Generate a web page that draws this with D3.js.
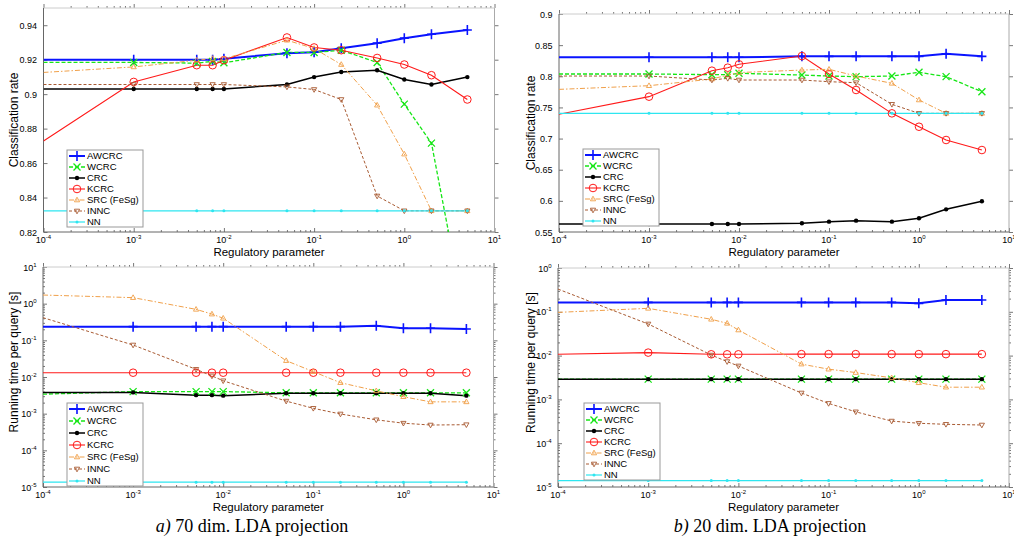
<!DOCTYPE html>
<html>
<head>
<meta charset="utf-8">
<script src="https://cdn.jsdelivr.net/npm/d3@7"></script>
<style>
  body { margin: 0; background: #fff; }
  text { font-family: "Liberation Sans", Arial, sans-serif; fill: #000; }
</style>
</head>
<body>
<svg id="fig" width="1014" height="541"></svg>
<script>
// regulatory parameter values (x), shared by all four plots
const regParams = [1e-4, 1e-3, 5e-3, 7.5e-3, 1e-2, 5e-2, 1e-1, 2e-1, 5e-1, 1, 2, 5];
const methodNames = ["AWCRC", "WCRC", "CRC", "KCRC", "SRC (FeSg)", "INNC", "NN"];

// a) 70 dim, classification rate
const rate70Awcrc = [0.920, 0.920, 0.920, 0.920, 0.9205, 0.9238, 0.9243, 0.9267, 0.9296, 0.9325, 0.9348, 0.9372];
const rate70Wcrc  = [0.9184, 0.9184, 0.918, 0.919, 0.9182, 0.9242, 0.9242, 0.9255, 0.9184, 0.8942, 0.8716, 0.763];
const rate70Crc   = [0.903, 0.903, 0.903, 0.903, 0.903, 0.9056, 0.9099, 0.9129, 0.9139, 0.9085, 0.9056, 0.9099];
const rate70Kcrc  = [0.8728, 0.9071, 0.9168, 0.9168, 0.9197, 0.9329, 0.9271, 0.9255, 0.921, 0.9172, 0.911, 0.8969];
const rate70Src   = [0.9126, 0.9158, 0.9197, 0.9207, 0.9205, 0.9313, 0.9265, 0.9172, 0.8936, 0.8652, 0.8323, 0.8323];
const rate70Innc  = [0.9056, 0.9056, 0.9056, 0.9056, 0.9056, 0.9042, 0.9027, 0.8969, 0.8409, 0.8323, 0.8323, 0.8323];
const rate70Nn    = [0.8323, 0.8323, 0.8323, 0.8323, 0.8323, 0.8323, 0.8323, 0.8323, 0.8323, 0.8323, 0.8323, 0.8323];

// b) 20 dim, classification rate
const rate20Awcrc = [0.8305, 0.8305, 0.8305, 0.8305, 0.8305, 0.832, 0.832, 0.832, 0.832, 0.832, 0.836, 0.832];
const rate20Wcrc  = [0.8037, 0.8037, 0.8026, 0.8026, 0.8048, 0.802, 0.8004, 0.7994, 0.8004, 0.8064, 0.7994, 0.7752];
const rate20Crc   = [0.5628, 0.5628, 0.5628, 0.5628, 0.5628, 0.564, 0.5666, 0.5682, 0.5666, 0.572, 0.5864, 0.5993];
const rate20Kcrc  = [0.739, 0.7673, 0.809, 0.8138, 0.8192, 0.8325, 0.8037, 0.778, 0.7405, 0.719, 0.6977, 0.6816];
const rate20Src   = [0.779, 0.7849, 0.7956, 0.802, 0.806, 0.810, 0.8112, 0.8004, 0.7887, 0.762, 0.7405, 0.7405];
const rate20Innc  = [0.8004, 0.8004, 0.794, 0.7967, 0.794, 0.794, 0.7913, 0.7897, 0.755, 0.7405, 0.7405, 0.7405];
const rate20Nn    = [0.7405, 0.7405, 0.7405, 0.7405, 0.7405, 0.7405, 0.7405, 0.7405, 0.7405, 0.7405, 0.7405, 0.7405];

// a) 70 dim, running time per query [s]
const time70Awcrc = [0.236, 0.236, 0.236, 0.236, 0.236, 0.236, 0.236, 0.236, 0.25, 0.213, 0.213, 0.204];
const time70Wcrc  = [0.0034, 0.004, 0.004, 0.004, 0.004, 0.0037, 0.0037, 0.0037, 0.0037, 0.0037, 0.0037, 0.0037];
const time70Crc   = [0.0038, 0.0038, 0.0032, 0.0032, 0.0031, 0.0036, 0.0036, 0.0036, 0.0036, 0.0036, 0.0036, 0.0031];
const time70Kcrc  = [0.0131, 0.0131, 0.0131, 0.0131, 0.0131, 0.0131, 0.0131, 0.0131, 0.0131, 0.0131, 0.0131, 0.0131];
const time70Src   = [1.72, 1.46, 0.70, 0.52, 0.40, 0.0279, 0.014, 0.007, 0.0042, 0.0029, 0.0021, 0.0021];
const time70Innc  = [0.415, 0.0746, 0.0162, 0.0107, 0.0079, 0.0022, 0.0014, 0.00098, 0.00068, 0.00055, 0.00049, 0.0005];
const time70Nn    = [1.35e-5, 1.35e-5, 1.35e-5, 1.35e-5, 1.35e-5, 1.35e-5, 1.35e-5, 1.35e-5, 1.35e-5, 1.35e-5, 1.35e-5, 1.35e-5];

// b) 20 dim, running time per query [s]
const time20Awcrc = [0.164, 0.164, 0.164, 0.164, 0.164, 0.164, 0.164, 0.164, 0.164, 0.156, 0.186, 0.186];
const time20Wcrc  = [0.0029, 0.0029, 0.0029, 0.0029, 0.0029, 0.0029, 0.0029, 0.0029, 0.0029, 0.0029, 0.0029, 0.0029];
const time20Crc   = [0.0029, 0.0029, 0.0029, 0.0029, 0.0029, 0.0029, 0.0029, 0.0029, 0.0029, 0.0029, 0.0029, 0.0029];
const time20Kcrc  = [0.0107, 0.0117, 0.0107, 0.0107, 0.0107, 0.0108, 0.0108, 0.0108, 0.0108, 0.0108, 0.0108, 0.0108];
const time20Src   = [0.097, 0.12, 0.0675, 0.0546, 0.0384, 0.0064, 0.0049, 0.0041, 0.0031, 0.0024, 0.0019, 0.0019];
const time20Innc  = [0.33, 0.0527, 0.0103, 0.0073, 0.0058, 0.0014, 0.00081, 0.00052, 0.00032, 0.000285, 0.00027, 0.00026];
const time20Nn    = [1.4e-5, 1.4e-5, 1.4e-5, 1.4e-5, 1.4e-5, 1.4e-5, 1.4e-5, 1.4e-5, 1.4e-5, 1.4e-5, 1.4e-5, 1.4e-5];

// tick values
const xTicks = [1e-4, 1e-3, 1e-2, 1e-1, 1, 10];
const yTicksRate70 = [0.82, 0.84, 0.86, 0.88, 0.9, 0.92, 0.94];
const yTicksRate20 = [0.55, 0.6, 0.65, 0.7, 0.75, 0.8, 0.85, 0.9];
const yTicksTime70 = [1e-5, 1e-4, 1e-3, 1e-2, 1e-1, 1, 10];
const yTicksTime20 = [1e-5, 1e-4, 1e-3, 1e-2, 1e-1, 1];

// line look for each method (same order as methodNames)
const styles = [
  { color: "#0a14ff", width: 2,   dash: null,        marker: "plus" },
  { color: "#16e616", width: 1.3, dash: "4,2",       marker: "cross" },
  { color: "#000000", width: 1.5, dash: null,        marker: "dot" },
  { color: "#ff1a1a", width: 1.1, dash: null,        marker: "circle" },
  { color: "#f0a04a", width: 1,   dash: "5,2,1.5,2", marker: "triUp" },
  { color: "#a85a32", width: 1,   dash: "3,2",       marker: "triDown" },
  { color: "#2ee6f0", width: 1.2, dash: null,        marker: "point" }
];

const panels = [
  { left: 43.5, right: 494.5, top: 8, bottom: 232, log: false, yDomain: [0.82, 0.95], yTicks: yTicksRate70,
    yLabel: "Classification rate", yLabelX: 15, legend: { x: 67, y: 150, h: 77 },
    series: [rate70Awcrc, rate70Wcrc, rate70Crc, rate70Kcrc, rate70Src, rate70Innc, rate70Nn] },
  { left: 559, right: 1009, top: 14, bottom: 232, log: false, yDomain: [0.55, 0.9], yTicks: yTicksRate20,
    yLabel: "Classification rate", yLabelX: 532, legend: { x: 583, y: 149, h: 77 },
    series: [rate20Awcrc, rate20Wcrc, rate20Crc, rate20Kcrc, rate20Src, rate20Innc, rate20Nn] },
  { left: 43, right: 493.5, top: 267, bottom: 487, log: true, yDomain: [1e-5, 10], yTicks: yTicksTime70,
    yLabel: "Running time per query [s]", yLabelX: 15, legend: { x: 67, y: 403, h: 83 },
    series: [time70Awcrc, time70Wcrc, time70Crc, time70Kcrc, time70Src, time70Innc, time70Nn] },
  { left: 558, right: 1009, top: 268, bottom: 487, log: true, yDomain: [1e-5, 1], yTicks: yTicksTime20,
    yLabel: "Running time per query [s]", yLabelX: 532, legend: { x: 584, y: 403, h: 77 },
    series: [time20Awcrc, time20Wcrc, time20Crc, time20Kcrc, time20Src, time20Innc, time20Nn] }
];

const svg = d3.select("#fig");

function drawMarker(g, type, cx, cy, st) {
  const m = g.append("g").attr("transform", `translate(${cx},${cy})`)
    .attr("stroke", st.color).attr("fill", "none");
  if (type === "plus") {
    m.append("path").attr("d", "M-4.5,0H4.5M0,-5V5").attr("stroke-width", 1.6);
  } else if (type === "cross") {
    m.append("path").attr("d", "M-3.5,-3.5L3.5,3.5M-3.5,3.5L3.5,-3.5").attr("stroke-width", 1.3);
  } else if (type === "dot") {
    m.append("circle").attr("r", 2.2).attr("fill", st.color).attr("stroke", "none");
  } else if (type === "circle") {
    m.append("circle").attr("r", 3.8).attr("stroke-width", 1);
  } else if (type === "triUp") {
    m.append("path").attr("d", "M0,-2.8L2.6,1.8H-2.6Z").attr("stroke-width", 0.9);
  } else if (type === "triDown") {
    m.append("path").attr("d", "M0,2.8L2.6,-1.8H-2.6Z").attr("stroke-width", 0.9);
  } else if (type === "point") {
    m.append("circle").attr("r", 1.5).attr("fill", st.color).attr("stroke", "none");
  }
}

function powLabel(sel, v) {
  const e = Math.round(Math.log10(v));
  sel.text("10");
  sel.append("tspan").attr("dy", -4).attr("font-size", 6).text(e);
}

// log-scale minor tick positions
function minorTicks(lo, hi) {
  const out = [];
  for (let e = Math.round(Math.log10(lo)); e < Math.round(Math.log10(hi)); e++) {
    for (let k = 2; k <= 9; k++) out.push(k * Math.pow(10, e));
  }
  return out;
}

panels.forEach((p, pi) => {
  const g = svg.append("g");
  const x = d3.scaleLog().domain([1e-4, 10]).range([p.left, p.right]);
  const y = (p.log ? d3.scaleLog() : d3.scaleLinear()).domain(p.yDomain).range([p.bottom, p.top]);

  const clipId = "clip" + pi;
  g.append("clipPath").attr("id", clipId).append("rect")
    .attr("x", p.left).attr("y", p.top)
    .attr("width", p.right - p.left).attr("height", p.bottom - p.top);

  // ticks (inward) on all four sides
  const axes = g.append("g").attr("stroke", "#777");
  const xMinor = minorTicks(1e-4, 10);
  [[p.bottom, -4, -2, d3.axisBottom], [p.top, 4, 2, d3.axisTop]].forEach(([yy, big, small, fn]) => {
    axes.append("g").attr("transform", `translate(0,${yy})`)
      .call(fn(x).tickValues(xTicks).tickSizeInner(big).tickSizeOuter(0).tickFormat(""));
    axes.append("g").attr("transform", `translate(0,${yy})`)
      .call(fn(x).tickValues(xMinor).tickSizeInner(small).tickSizeOuter(0).tickFormat(""));
  });
  [[p.left, -4, d3.axisLeft], [p.right, 4, d3.axisRight]].forEach(([xx, big, fn]) => {
    axes.append("g").attr("transform", `translate(${xx},0)`)
      .call(fn(y).tickValues(p.yTicks).tickSizeInner(big).tickSizeOuter(0).tickFormat(""));
    if (p.log) {
      axes.append("g").attr("transform", `translate(${xx},0)`)
        .call(fn(y).tickValues(minorTicks(p.yDomain[0], p.yDomain[1])).tickSizeInner(big / 2).tickSizeOuter(0).tickFormat(""));
    }
  });
  axes.selectAll(".domain").remove();
  axes.selectAll("line").attr("stroke", "#777");

  // frame
  g.append("path")
    .attr("d", `M${p.right},${p.top}V${p.bottom}`).attr("stroke", "#aaa").attr("fill", "none");
  g.append("path")
    .attr("d", `M${p.left},${p.top}H${p.right}`).attr("stroke", "#ccc").attr("fill", "none");
  g.append("path")
    .attr("d", `M${p.left},${p.top}V${p.bottom}H${p.right}`).attr("stroke", "#666").attr("fill", "none");

  // tick labels
  xTicks.forEach(v => {
    g.append("text").attr("x", x(v)).attr("y", p.bottom + 10.5)
      .attr("text-anchor", "middle").attr("font-size", 9).call(powLabel, v);
  });
  p.yTicks.forEach(v => {
    const t = g.append("text").attr("x", p.left - 6.5).attr("y", y(v) + 3.5)
      .attr("text-anchor", "end").attr("font-size", 9);
    if (p.log) t.call(powLabel, v);
    else t.text(String(+v.toFixed(2)));
  });

  // axis titles
  g.append("text").attr("x", (p.left + p.right) / 2).attr("y", p.bottom + 24)
    .attr("text-anchor", "middle").attr("font-size", 11.5).text("Regulatory parameter");
  g.append("text")
    .attr("transform", `translate(${p.yLabelX + 3},${(p.top + p.bottom) / 2 + (p.log ? -15 : 0)}) rotate(-90)`)
    .attr("text-anchor", "middle").attr("font-size", 12).text(p.yLabel);

  // series
  const line = d3.line().x((d, i) => x(regParams[i])).y(d => y(d));
  const plot = g.append("g").attr("clip-path", `url(#${clipId})`);
  p.series.forEach((vals, si) => {
    const st = styles[si];
    plot.append("path").datum(vals).attr("d", line)
      .attr("fill", "none").attr("stroke", st.color).attr("stroke-width", st.width)
      .attr("stroke-dasharray", st.dash);
  });
  p.series.forEach((vals, si) => {
    vals.forEach((v, i) => {
      if (i === 0) return; // no marker at the left edge
      drawMarker(plot, styles[si].marker, x(regParams[i]), y(v), styles[si]);
    });
  });

  // legend
  const lg = g.append("g").attr("transform", `translate(${p.legend.x},${p.legend.y})`);
  lg.append("rect").attr("width", 76).attr("height", p.legend.h)
    .attr("fill", "#fff").attr("stroke", "#999");
  const step = (p.legend.h - 11) / 6;
  methodNames.forEach((name, i) => {
    const st = styles[i];
    const ly = 6 + i * step;
    lg.append("path").attr("d", `M2,${ly}H18`).attr("stroke", st.color)
      .attr("stroke-width", st.width).attr("stroke-dasharray", st.dash);
    drawMarker(lg, st.marker, 10, ly, st);
    lg.append("text").attr("x", 20).attr("y", ly + 3.3).attr("font-size", 9.5).text(name);
  });
});

// sub-figure captions
const captions = [["a)", " 70 dim. LDA projection", 252], ["b)", " 20 dim. LDA projection", 770]];
captions.forEach(([tag, rest, cx]) => {
  const t = svg.append("text").attr("x", cx).attr("y", 532).attr("text-anchor", "middle")
    .style("font-family", "'Liberation Serif', 'Times New Roman', serif").attr("font-size", 18);
  t.append("tspan").attr("font-style", "italic").text(tag);
  t.append("tspan").text(rest);
});
</script>
</body>
</html>
